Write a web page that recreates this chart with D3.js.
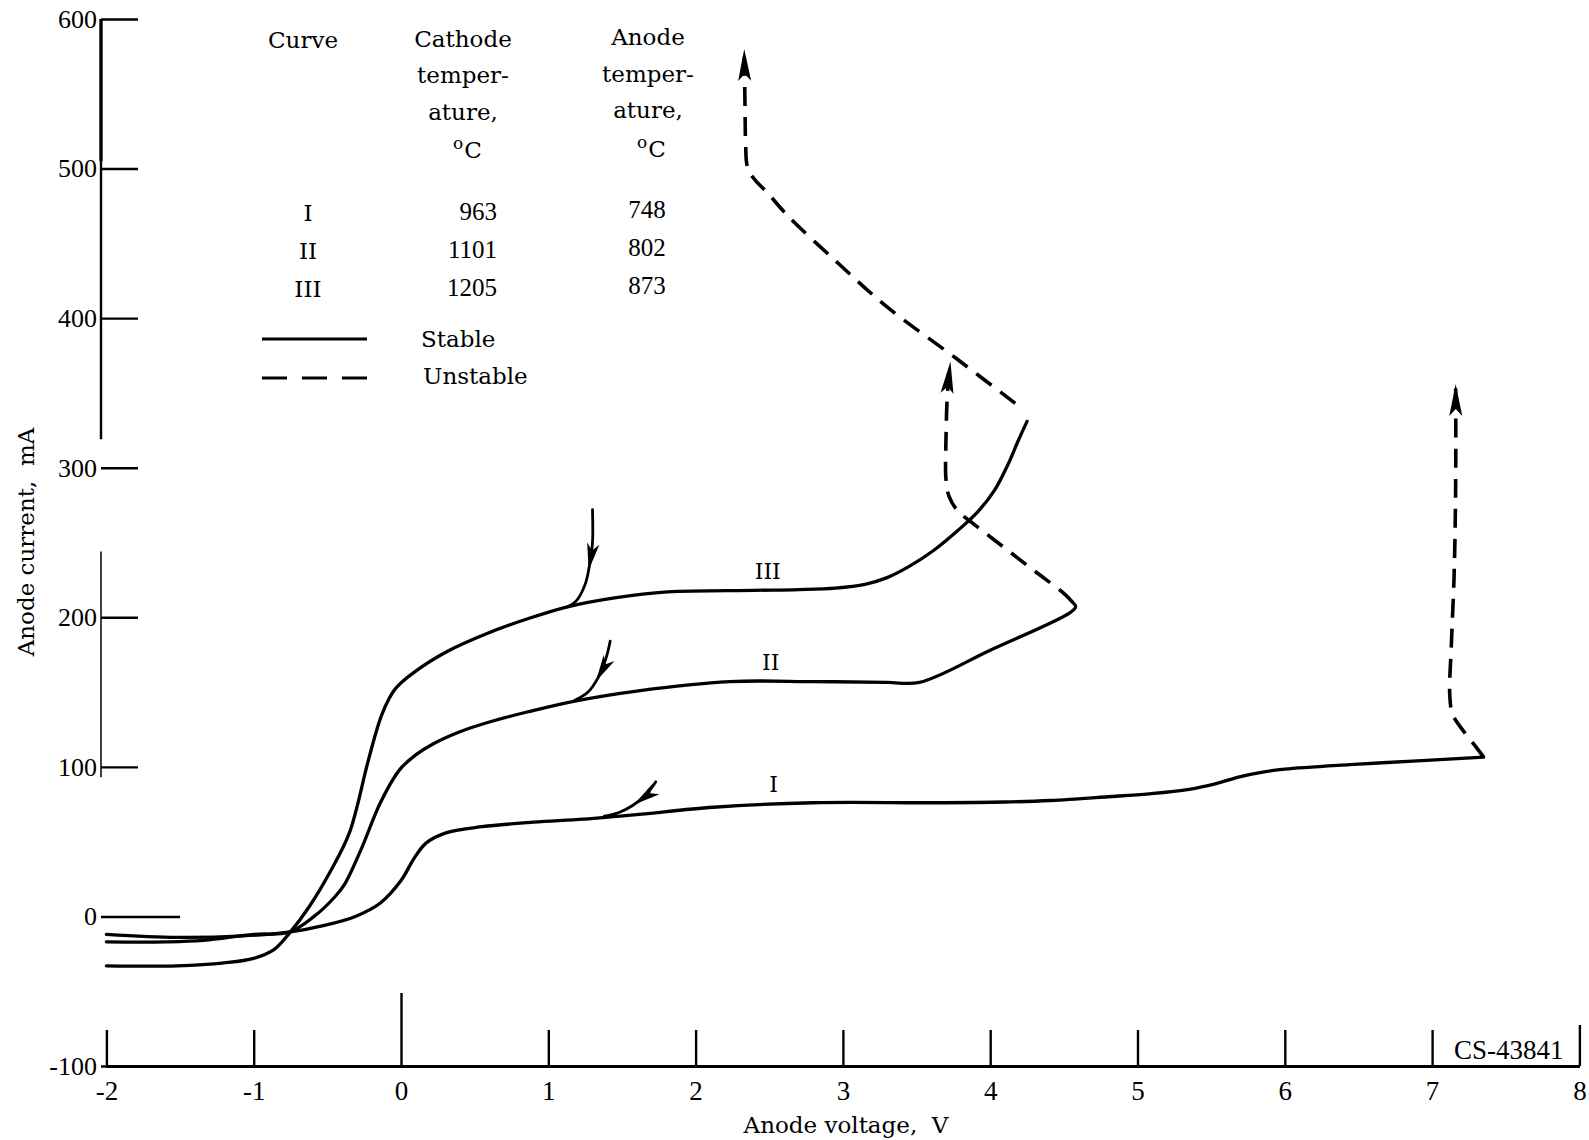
<!DOCTYPE html>
<html>
<head>
<meta charset="utf-8">
<script src="https://cdn.jsdelivr.net/npm/d3@7"></script>
<style>
  html, body { margin: 0; padding: 0; background: #fff; }
  svg { display: block; }
  text { fill: #000; }
</style>
</head>
<body>
<svg id="chart" width="1589" height="1140"></svg>
<script>
// ---- tick values ----
const xTicks = [-2, -1, 0, 1, 2, 3, 4, 5, 6, 7, 8];
const yTicks = [-100, 0, 100, 200, 300, 400, 500, 600];

// ---- characteristic curves: [anode voltage (V), anode current (mA)] ----
const curveIStable = [
  [-2.0, -12], [-1.52, -14], [-1.07, -13], [-0.76, -10.5], [-0.52, -6], [-0.31, 0],
  [-0.14, 9], [0.0, 24], [0.09, 39], [0.17, 49], [0.31, 56], [0.55, 60], [0.9, 63],
  [1.24, 65], [1.6, 68], [2.12, 73], [2.8, 76], [3.6, 76], [4.1, 76.5], [4.41, 77.5],
  [4.8, 80], [5.08, 82], [5.35, 85], [5.54, 89], [5.7, 93.5], [5.85, 96.5], [6.0, 98.5],
  [6.44, 101.5], [6.9, 104], [7.35, 106.5]
];
const curveIUnstable = [
  [7.35, 106.5], [7.30, 113], [7.22, 123], [7.14, 135], [7.12, 148], [7.13, 180],
  [7.15, 230], [7.16, 290], [7.16, 356]
];

const curveIIStable = [
  [-2.0, -17], [-1.6, -17], [-1.34, -16], [-1.0, -12], [-0.76, -10.5], [-0.59, 0],
  [-0.45, 13], [-0.38, 22], [-0.27, 45], [-0.14, 76], [-0.01, 98], [0.1, 108],
  [0.22, 115.5], [0.4, 123.5], [0.6, 130], [0.87, 137], [1.18, 144], [1.6, 150.7],
  [2.23, 157], [2.8, 157], [3.3, 156.5], [3.52, 156.5], [4.0, 178], [4.54, 203],
  [4.58, 207], [4.56, 210]
];
const curveIIUnstable = [
  [4.56, 210], [4.50, 216], [4.30, 231], [4.09, 247], [3.88, 263], [3.78, 271],
  [3.72, 281], [3.70, 292], [3.70, 320], [3.71, 350], [3.73, 371]
];

const curveIIIStable = [
  [-2.0, -33], [-1.52, -33], [-1.2, -31], [-1.0, -28], [-0.86, -22], [-0.76, -11.5],
  [-0.62, 7], [-0.48, 30], [-0.35, 56], [-0.22, 105], [-0.13, 135], [-0.04, 152],
  [0.10, 164], [0.31, 177], [0.58, 189], [0.86, 199], [1.13, 207], [1.45, 213],
  [1.81, 217], [2.4, 218], [2.7, 218.5], [2.95, 219.5], [3.15, 222], [3.3, 226.5],
  [3.45, 234], [3.62, 245], [3.78, 258], [3.92, 271], [4.03, 285], [4.12, 302],
  [4.19, 318], [4.25, 331]
];
const curveIIIUnstable = [
  [4.17, 343], [3.77, 373], [3.30, 407.5], [2.97, 436.5], [2.63, 468], [2.49, 483.5],
  [2.39, 494], [2.35, 502], [2.34, 515], [2.335, 545], [2.33, 580]
];

// ---- short arrows showing where each sweep starts ----
const arrowI = [[1.73, 90], [1.66, 81], [1.57, 74], [1.48, 69.5], [1.38, 67]];
const arrowII = [[1.42, 184], [1.39, 172], [1.34, 160], [1.27, 150], [1.18, 144.5]];
const arrowIII = [[1.30, 272], [1.30, 250], [1.28, 235], [1.25, 222], [1.19, 211], [1.13, 207]];

// ---- curve labels ----
const curveNames = ["I", "II", "III"];
const curveLabelV = [2.53, 2.51, 2.49];
const curveLabelI = [88.5, 170, 231];

// ---- legend table ----
const cathodeTemps = [963, 1101, 1205];
const anodeTemps = [748, 802, 873];

// ---- scales ----
const x = d3.scaleLinear().domain([-2, 8]).range([106.4, 1579.4]);
const y = d3.scaleLinear().domain([-100, 600]).range([1066, 19]);

const svg = d3.select("#chart");
svg.append("rect").attr("width", 1589).attr("height", 1140).attr("fill", "#fff");

const serif = "'DejaVu Serif', serif";
const numFont = "'Liberation Serif', serif";
const plain = d => String(d);   // ASCII hyphen for negatives

// ---- x axis (baseline at -100 mA, ticks pointing up) ----
const xAxisG = svg.append("g")
  .attr("transform", `translate(0,${y(-100)})`)
  .call(d3.axisBottom(x).tickValues(xTicks).tickSizeInner(-36).tickSizeOuter(0).tickPadding(0)
    .tickFormat(plain));
xAxisG.select(".domain").attr("stroke", "#000").attr("stroke-width", 3.2);
xAxisG.selectAll(".tick line").attr("stroke", "#000").attr("stroke-width", 2.4)
  .attr("y2", d => d === 0 ? -73 : (d === 8 ? -41 : -36));
xAxisG.selectAll(".tick text")
  .attr("y", 34).attr("dy", 0)
  .attr("font-family", numFont).attr("font-size", 27).attr("fill", "#000");

// ---- y axis (ticks pointing right, labels left) ----
const axisX = Math.round(x(-2) - 5);
const yAxisG = svg.append("g")
  .attr("transform", `translate(${axisX},0)`)
  .call(d3.axisLeft(y).tickValues(yTicks).tickSizeInner(-37).tickSizeOuter(0).tickPadding(4)
    .tickFormat(plain));
yAxisG.select(".domain").remove();
yAxisG.selectAll(".tick line").attr("stroke", "#000").attr("stroke-width", 2.4)
  .attr("x2", d => d === 0 ? x(-1.5) - axisX : 37);
yAxisG.selectAll(".tick text")
  .attr("font-family", numFont).attr("font-size", 26).attr("fill", "#000");

// broken vertical axis line
const axisSegments = [[600, 505, 3.4], [505, 319, 2.4], [244, 93, 1.5]];
svg.append("g").selectAll("line").data(axisSegments).join("line")
  .attr("x1", axisX).attr("x2", axisX)
  .attr("y1", d => y(d[0])).attr("y2", d => y(d[1]))
  .attr("stroke", "#000").attr("stroke-width", d => d[2]);

// CS number box between the 7 and 8 ticks
svg.append("text")
  .attr("x", (x(7) + x(8)) / 2 + 3).attr("y", y(-100) - 7)
  .attr("text-anchor", "middle")
  .attr("font-family", numFont).attr("font-size", 27)
  .text("CS-43841");

// axis titles
svg.append("text")
  .attr("x", 846).attr("y", 1133)
  .attr("text-anchor", "middle")
  .attr("font-family", serif).attr("font-size", 23)
  .style("white-space", "pre")
  .text("Anode voltage,  V");
svg.append("text")
  .attr("transform", "translate(34,542) rotate(-90)")
  .attr("text-anchor", "middle")
  .attr("font-family", serif).attr("font-size", 23)
  .style("white-space", "pre")
  .text("Anode current,  mA");

// ---- curves ----
const line = d3.line().x(d => x(d[0])).y(d => y(d[1])).curve(d3.curveCatmullRom.alpha(0.5));
const plot = svg.append("g");

const stableSets = [curveIStable, curveIIStable, curveIIIStable];
const unstableSets = [curveIUnstable, curveIIUnstable, curveIIIUnstable];

plot.selectAll("path.stable").data(stableSets).join("path")
  .attr("class", "stable")
  .attr("d", line).attr("fill", "none")
  .attr("stroke", "#000").attr("stroke-width", 3.3)
  .attr("stroke-linecap", "round").attr("stroke-linejoin", "round");

const dashed = plot.selectAll("path.unstable").data(unstableSets).join("path")
  .attr("class", "unstable")
  .attr("d", line).attr("fill", "none")
  .attr("stroke", "#000").attr("stroke-width", 3.6)
  .attr("stroke-dasharray", "19 11");

function headPath(tip, back, len, hw, notch) {
  const dx = tip[0] - back[0], dy = tip[1] - back[1];
  const d = Math.hypot(dx, dy);
  const ux = dx / d, uy = dy / d, px = -uy, py = ux;
  const bx = tip[0] - ux * len, by = tip[1] - uy * len;
  const nx = tip[0] - ux * (len - notch), ny = tip[1] - uy * (len - notch);
  return `M${tip[0]},${tip[1]}L${bx + px * hw},${by + py * hw}L${nx},${ny}L${bx - px * hw},${by - py * hw}Z`;
}

// arrowheads at the ends of the unstable branches
dashed.each(function () {
  const L = this.getTotalLength();
  const p = this.getPointAtLength(L), q = this.getPointAtLength(L - 6);
  plot.append("path").attr("d", headPath([p.x, p.y], [q.x, q.y], 32, 6.5, 7)).attr("fill", "#000");
});

// start arrows on the stable branches
const startArrows = [arrowI, arrowII, arrowIII];
const headAt = [0.5, 0.6, 0.58];
plot.selectAll("path.start").data(startArrows).join("path")
  .attr("class", "start")
  .attr("d", line).attr("fill", "none")
  .attr("stroke", "#000").attr("stroke-width", 2.8).attr("stroke-linecap", "round")
  .each(function (d, i) {
    const L = this.getTotalLength();
    const t = L * headAt[i];
    const p = this.getPointAtLength(t), q = this.getPointAtLength(t - 5);
    plot.append("path").attr("d", headPath([p.x, p.y], [q.x, q.y], 27, 6.2, 7)).attr("fill", "#000");
  });

// curve labels
plot.selectAll("text.clabel").data(curveNames).join("text")
  .attr("class", "clabel")
  .attr("x", (d, i) => x(curveLabelV[i])).attr("y", (d, i) => y(curveLabelI[i]) + 8)
  .attr("text-anchor", "middle")
  .attr("font-family", serif).attr("font-size", 22)
  .text(d => d);

// ---- legend table ----
const leg = svg.append("g").attr("font-family", serif).attr("font-size", 23);
leg.append("text").attr("x", 303).attr("y", 48).attr("text-anchor", "middle").text("Curve");

const cathHead = ["Cathode", "temper-", "ature,"];
const cathY = [46.5, 83, 120];
const anodeHead = ["Anode", "temper-", "ature,"];
const anodeY = [45, 82, 118];
leg.selectAll("text.ch").data(cathHead).join("text").attr("class", "ch")
  .attr("x", 463).attr("y", (d, i) => cathY[i]).attr("text-anchor", "middle").text(d => d);
leg.selectAll("text.ah").data(anodeHead).join("text").attr("class", "ah")
  .attr("x", 648).attr("y", (d, i) => anodeY[i]).attr("text-anchor", "middle").text(d => d);

function degC(cx, base) {
  const t = leg.append("text").attr("x", cx - 10).attr("y", base - 9).attr("font-size", 17);
  t.append("tspan").text("o");
  t.append("tspan").attr("dx", 1).attr("dy", 9).attr("font-size", 23).text("C");
}
degC(463, 158);
degC(647, 157);

const rowBase = [221, 259, 297];
leg.selectAll("text.rn").data(curveNames).join("text").attr("class", "rn")
  .attr("x", 308).attr("y", (d, i) => rowBase[i]).attr("text-anchor", "middle").text(d => d);
leg.selectAll("text.ct").data(cathodeTemps).join("text").attr("class", "ct")
  .attr("x", 497).attr("y", (d, i) => rowBase[i] - 1).attr("text-anchor", "end")
  .attr("font-family", numFont).attr("font-size", 25).text(d => d);
leg.selectAll("text.at").data(anodeTemps).join("text").attr("class", "at")
  .attr("x", 647).attr("y", (d, i) => rowBase[i] - 3).attr("text-anchor", "middle")
  .attr("font-family", numFont).attr("font-size", 25).text(d => d);

leg.append("line").attr("x1", 262).attr("x2", 367).attr("y1", 339).attr("y2", 339)
  .attr("stroke", "#000").attr("stroke-width", 2.8);
leg.append("line").attr("x1", 262).attr("x2", 367).attr("y1", 378).attr("y2", 378)
  .attr("stroke", "#000").attr("stroke-width", 2.8).attr("stroke-dasharray", "25 15");
leg.append("text").attr("x", 421).attr("y", 347).text("Stable");
leg.append("text").attr("x", 423).attr("y", 384).text("Unstable");
</script>
</body>
</html>
